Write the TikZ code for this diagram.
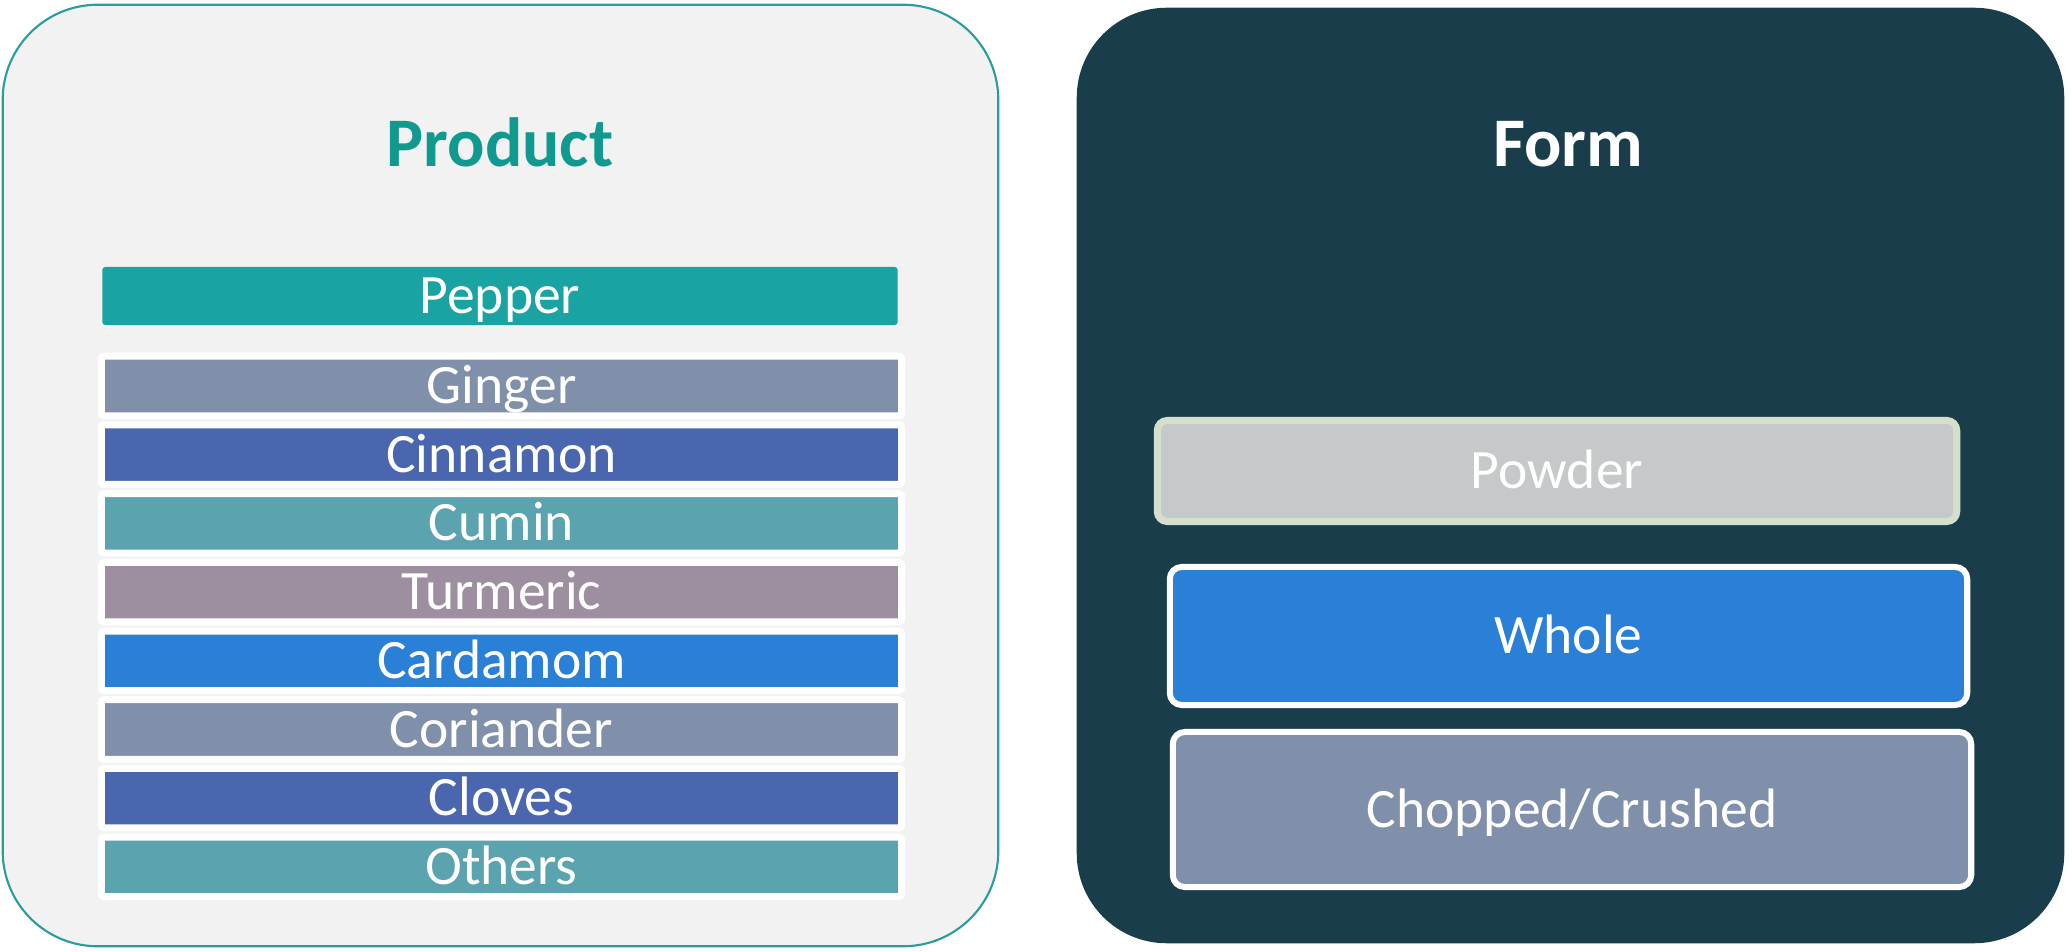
\documentclass[tikz,border=0pt]{standalone}
\usepackage{fontspec}
\setmainfont{Carlito}

\definecolor{panelgray}{HTML}{F2F2F2}
\definecolor{paneledge}{HTML}{2A9C9C}
\definecolor{paneldark}{HTML}{1A3D4B}
\definecolor{titleteal}{HTML}{10998F}
\definecolor{pepperteal}{HTML}{19A3A3}
\definecolor{slate}{HTML}{8090AA}
\definecolor{indigo}{HTML}{4A66AE}
\definecolor{seateal}{HTML}{5BA3AF}
\definecolor{mauve}{HTML}{9E8FA0}
\definecolor{azure}{HTML}{2A7FD6}
\definecolor{silver}{HTML}{C5C9CA}
\definecolor{sage}{HTML}{D5E0CC}

\begin{document}
\begin{tikzpicture}[x=0.01cm,y=-0.01cm,
    title/.style={inner sep=0pt,text height=0.44cm,text depth=0pt,font=\fontsize{19.8}{24}\selectfont\bfseries},
    bar/.style={inner sep=0pt,minimum width=8cm,minimum height=0.595cm,draw=white,line width=0.07cm,
        rounded corners=0.03cm,text=white,text height=0.35cm,text depth=0pt,font=\fontsize{15.8}{19}\selectfont},
    formbox/.style={bar,line width=0.06cm,rounded corners=0.12cm}]

    \useasboundingbox (0,0) rectangle (2072,952);

    % the two panels
    \node[draw=paneledge,fill=panelgray,line width=0.6pt,rounded corners=0.95cm,
        minimum width=9.95cm,minimum height=9.41cm] (L) at (500.5,475.5) {};
    \node[fill=paneldark,rounded corners=0.9cm,
        minimum width=9.87cm,minimum height=9.35cm] (R) at (1570.5,475.5) {};

    \node[title,text=titleteal] (A) at (500,144) {Product};
    \node[title,text=white] (B) at (1568,144) {Form};

    % product list
    \node[bar,draw=none,fill=pepperteal,minimum width=7.95cm,minimum height=0.58cm] (P) at (500,296) {Pepper};
    \node[bar,fill=slate] (C1) at (501.5,386) {Ginger};
    \node[bar,fill=indigo] (C2) at (501.5,454.7) {Cinnamon};
    \node[bar,fill=seateal] (C3) at (501.5,523.4) {Cumin};
    \node[bar,fill=mauve] (C4) at (501.5,592.1) {Turmeric};
    \node[bar,fill=azure] (C5) at (501.5,660.8) {Cardamom};
    \node[bar,fill=slate] (C6) at (501.5,729.5) {Coriander};
    \node[bar,fill=indigo] (C7) at (501.5,798.2) {Cloves};
    \node[bar,fill=seateal] (C8) at (501.5,866.9) {Others};

    % form list
    \node[formbox,draw=sage,line width=0.07cm,rounded corners=0.1cm,fill=silver,
        minimum width=7.99cm,minimum height=1.01cm] (F1) at (1557,471) {Powder};
    \node[formbox,fill=azure,minimum width=7.97cm,minimum height=1.38cm] (F2) at (1568.5,636) {Whole};
    \node[formbox,fill=slate,minimum width=7.98cm,minimum height=1.55cm] (F3) at (1572,809.5) {Chopped/Crushed};

\end{tikzpicture}
\end{document}
